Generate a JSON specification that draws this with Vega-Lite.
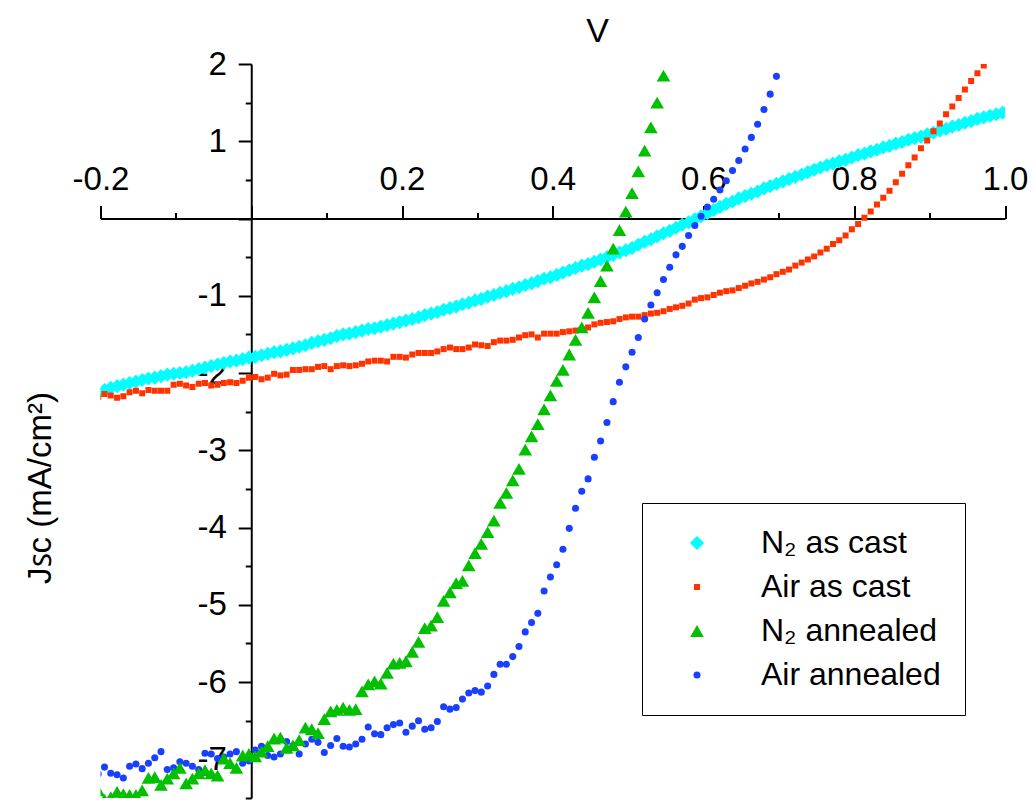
{
"$schema": "https://vega.github.io/schema/vega-lite/v6.json",
"width": 904.5,
"height": 734,
"autosize": {"type": "none"},
"padding": {"left": 100.5, "top": 64, "right": 29, "bottom": 5},
"config": {"view": {"stroke": null}, "font": "Liberation Sans"},
"data": {"values": [
{"s":"a","v":-0.203,"j":-2.27},{"s":"a","v":-0.1947,"j":-2.22},{"s":"a","v":-0.1864,"j":-2.19},{"s":"a","v":-0.178,"j":-2.17},{"s":"a","v":-0.1697,"j":-2.15},{"s":"a","v":-0.1614,"j":-2.13},{"s":"a","v":-0.153,"j":-2.11},{"s":"a","v":-0.1447,"j":-2.09},{"s":"a","v":-0.1364,"j":-2.07},{"s":"a","v":-0.128,"j":-2.06},{"s":"a","v":-0.1197,"j":-2.04},{"s":"a","v":-0.1114,"j":-2.02},{"s":"a","v":-0.103,"j":-2.01},{"s":"a","v":-0.0947,"j":-2.0},{"s":"a","v":-0.0864,"j":-1.99},{"s":"a","v":-0.0781,"j":-1.97},{"s":"a","v":-0.0697,"j":-1.95},{"s":"a","v":-0.0614,"j":-1.93},{"s":"a","v":-0.0531,"j":-1.91},{"s":"a","v":-0.0447,"j":-1.89},{"s":"a","v":-0.0364,"j":-1.87},{"s":"a","v":-0.0281,"j":-1.85},{"s":"a","v":-0.0197,"j":-1.84},{"s":"a","v":-0.0114,"j":-1.82},{"s":"a","v":-0.0031,"j":-1.8},{"s":"a","v":0.0053,"j":-1.79},{"s":"a","v":0.0136,"j":-1.77},{"s":"a","v":0.0219,"j":-1.75},{"s":"a","v":0.0303,"j":-1.73},{"s":"a","v":0.0386,"j":-1.72},{"s":"a","v":0.0469,"j":-1.7},{"s":"a","v":0.0553,"j":-1.68},{"s":"a","v":0.0636,"j":-1.66},{"s":"a","v":0.0719,"j":-1.64},{"s":"a","v":0.0803,"j":-1.61},{"s":"a","v":0.0886,"j":-1.59},{"s":"a","v":0.0969,"j":-1.57},{"s":"a","v":0.1053,"j":-1.55},{"s":"a","v":0.1136,"j":-1.52},{"s":"a","v":0.1219,"j":-1.5},{"s":"a","v":0.1302,"j":-1.49},{"s":"a","v":0.1386,"j":-1.47},{"s":"a","v":0.1469,"j":-1.45},{"s":"a","v":0.1552,"j":-1.43},{"s":"a","v":0.1636,"j":-1.42},{"s":"a","v":0.1719,"j":-1.4},{"s":"a","v":0.1802,"j":-1.38},{"s":"a","v":0.1886,"j":-1.36},{"s":"a","v":0.1969,"j":-1.34},{"s":"a","v":0.2052,"j":-1.32},{"s":"a","v":0.2136,"j":-1.3},{"s":"a","v":0.2219,"j":-1.28},{"s":"a","v":0.2302,"j":-1.25},{"s":"a","v":0.2386,"j":-1.23},{"s":"a","v":0.2469,"j":-1.21},{"s":"a","v":0.2552,"j":-1.18},{"s":"a","v":0.2636,"j":-1.16},{"s":"a","v":0.2719,"j":-1.14},{"s":"a","v":0.2802,"j":-1.11},{"s":"a","v":0.2886,"j":-1.09},{"s":"a","v":0.2969,"j":-1.06},{"s":"a","v":0.3052,"j":-1.04},{"s":"a","v":0.3136,"j":-1.01},{"s":"a","v":0.3219,"j":-0.99},{"s":"a","v":0.3302,"j":-0.96},{"s":"a","v":0.3385,"j":-0.94},{"s":"a","v":0.3469,"j":-0.91},{"s":"a","v":0.3552,"j":-0.89},{"s":"a","v":0.3635,"j":-0.86},{"s":"a","v":0.3719,"j":-0.84},{"s":"a","v":0.3802,"j":-0.81},{"s":"a","v":0.3885,"j":-0.78},{"s":"a","v":0.3969,"j":-0.76},{"s":"a","v":0.4052,"j":-0.73},{"s":"a","v":0.4135,"j":-0.7},{"s":"a","v":0.4219,"j":-0.67},{"s":"a","v":0.4302,"j":-0.64},{"s":"a","v":0.4385,"j":-0.61},{"s":"a","v":0.4469,"j":-0.59},{"s":"a","v":0.4552,"j":-0.56},{"s":"a","v":0.4635,"j":-0.53},{"s":"a","v":0.4719,"j":-0.5},{"s":"a","v":0.4802,"j":-0.47},{"s":"a","v":0.4885,"j":-0.44},{"s":"a","v":0.4969,"j":-0.41},{"s":"a","v":0.5052,"j":-0.38},{"s":"a","v":0.5135,"j":-0.34},{"s":"a","v":0.5219,"j":-0.3},{"s":"a","v":0.5302,"j":-0.27},{"s":"a","v":0.5385,"j":-0.23},{"s":"a","v":0.5469,"j":-0.19},{"s":"a","v":0.5552,"j":-0.16},{"s":"a","v":0.5635,"j":-0.12},{"s":"a","v":0.5718,"j":-0.08},{"s":"a","v":0.5802,"j":-0.05},{"s":"a","v":0.5885,"j":-0.01},{"s":"a","v":0.5968,"j":0.03},{"s":"a","v":0.6052,"j":0.07},{"s":"a","v":0.6135,"j":0.11},{"s":"a","v":0.6218,"j":0.15},{"s":"a","v":0.6302,"j":0.19},{"s":"a","v":0.6385,"j":0.22},{"s":"a","v":0.6468,"j":0.26},{"s":"a","v":0.6552,"j":0.29},{"s":"a","v":0.6635,"j":0.32},{"s":"a","v":0.6718,"j":0.35},{"s":"a","v":0.6802,"j":0.39},{"s":"a","v":0.6885,"j":0.42},{"s":"a","v":0.6968,"j":0.45},{"s":"a","v":0.7052,"j":0.48},{"s":"a","v":0.7135,"j":0.51},{"s":"a","v":0.7218,"j":0.54},{"s":"a","v":0.7302,"j":0.57},{"s":"a","v":0.7385,"j":0.6},{"s":"a","v":0.7468,"j":0.63},{"s":"a","v":0.7551,"j":0.66},{"s":"a","v":0.7635,"j":0.69},{"s":"a","v":0.7718,"j":0.71},{"s":"a","v":0.7801,"j":0.74},{"s":"a","v":0.7885,"j":0.76},{"s":"a","v":0.7968,"j":0.79},{"s":"a","v":0.8051,"j":0.82},{"s":"a","v":0.8135,"j":0.84},{"s":"a","v":0.8218,"j":0.87},{"s":"a","v":0.8301,"j":0.89},{"s":"a","v":0.8385,"j":0.92},{"s":"a","v":0.8468,"j":0.94},{"s":"a","v":0.8551,"j":0.97},{"s":"a","v":0.8635,"j":0.99},{"s":"a","v":0.8718,"j":1.02},{"s":"a","v":0.8801,"j":1.04},{"s":"a","v":0.8885,"j":1.06},{"s":"a","v":0.8968,"j":1.09},{"s":"a","v":0.9051,"j":1.11},{"s":"a","v":0.9135,"j":1.14},{"s":"a","v":0.9218,"j":1.16},{"s":"a","v":0.9301,"j":1.19},{"s":"a","v":0.9385,"j":1.21},{"s":"a","v":0.9468,"j":1.24},{"s":"a","v":0.9551,"j":1.26},{"s":"a","v":0.9634,"j":1.29},{"s":"a","v":0.9718,"j":1.31},{"s":"a","v":0.9801,"j":1.33},{"s":"a","v":0.9884,"j":1.35},{"s":"a","v":0.9968,"j":1.37},{"s":"a","v":1.0051,"j":1.4},
{"s":"b","v":-0.203,"j":-2.31},{"s":"b","v":-0.1947,"j":-2.27},{"s":"b","v":-0.1864,"j":-2.29},{"s":"b","v":-0.178,"j":-2.32},{"s":"b","v":-0.1697,"j":-2.3},{"s":"b","v":-0.1614,"j":-2.25},{"s":"b","v":-0.153,"j":-2.23},{"s":"b","v":-0.1447,"j":-2.26},{"s":"b","v":-0.1364,"j":-2.22},{"s":"b","v":-0.128,"j":-2.23},{"s":"b","v":-0.1197,"j":-2.23},{"s":"b","v":-0.1114,"j":-2.23},{"s":"b","v":-0.103,"j":-2.15},{"s":"b","v":-0.0947,"j":-2.14},{"s":"b","v":-0.0864,"j":-2.16},{"s":"b","v":-0.0781,"j":-2.18},{"s":"b","v":-0.0697,"j":-2.14},{"s":"b","v":-0.0614,"j":-2.13},{"s":"b","v":-0.0531,"j":-2.16},{"s":"b","v":-0.0447,"j":-2.15},{"s":"b","v":-0.0364,"j":-2.13},{"s":"b","v":-0.0281,"j":-2.12},{"s":"b","v":-0.0197,"j":-2.13},{"s":"b","v":-0.0114,"j":-2.1},{"s":"b","v":-0.0031,"j":-2.06},{"s":"b","v":0.0053,"j":-2.05},{"s":"b","v":0.0136,"j":-2.08},{"s":"b","v":0.0219,"j":-2.06},{"s":"b","v":0.0303,"j":-2.01},{"s":"b","v":0.0386,"j":-2.03},{"s":"b","v":0.0469,"j":-2.02},{"s":"b","v":0.0553,"j":-1.96},{"s":"b","v":0.0636,"j":-1.96},{"s":"b","v":0.0719,"j":-1.95},{"s":"b","v":0.0803,"j":-1.95},{"s":"b","v":0.0886,"j":-1.92},{"s":"b","v":0.0969,"j":-1.91},{"s":"b","v":0.1053,"j":-1.95},{"s":"b","v":0.1136,"j":-1.91},{"s":"b","v":0.1219,"j":-1.9},{"s":"b","v":0.1302,"j":-1.91},{"s":"b","v":0.1386,"j":-1.9},{"s":"b","v":0.1469,"j":-1.88},{"s":"b","v":0.1552,"j":-1.85},{"s":"b","v":0.1636,"j":-1.84},{"s":"b","v":0.1719,"j":-1.84},{"s":"b","v":0.1802,"j":-1.85},{"s":"b","v":0.1886,"j":-1.79},{"s":"b","v":0.1969,"j":-1.79},{"s":"b","v":0.2052,"j":-1.8},{"s":"b","v":0.2136,"j":-1.76},{"s":"b","v":0.2219,"j":-1.74},{"s":"b","v":0.2302,"j":-1.74},{"s":"b","v":0.2386,"j":-1.74},{"s":"b","v":0.2469,"j":-1.72},{"s":"b","v":0.2552,"j":-1.69},{"s":"b","v":0.2636,"j":-1.67},{"s":"b","v":0.2719,"j":-1.69},{"s":"b","v":0.2802,"j":-1.69},{"s":"b","v":0.2886,"j":-1.67},{"s":"b","v":0.2969,"j":-1.63},{"s":"b","v":0.3052,"j":-1.64},{"s":"b","v":0.3136,"j":-1.65},{"s":"b","v":0.3219,"j":-1.6},{"s":"b","v":0.3302,"j":-1.58},{"s":"b","v":0.3385,"j":-1.58},{"s":"b","v":0.3469,"j":-1.57},{"s":"b","v":0.3552,"j":-1.54},{"s":"b","v":0.3635,"j":-1.51},{"s":"b","v":0.3719,"j":-1.5},{"s":"b","v":0.3802,"j":-1.54},{"s":"b","v":0.3885,"j":-1.49},{"s":"b","v":0.3969,"j":-1.49},{"s":"b","v":0.4052,"j":-1.49},{"s":"b","v":0.4135,"j":-1.47},{"s":"b","v":0.4219,"j":-1.46},{"s":"b","v":0.4302,"j":-1.45},{"s":"b","v":0.4385,"j":-1.43},{"s":"b","v":0.4469,"j":-1.41},{"s":"b","v":0.4552,"j":-1.37},{"s":"b","v":0.4635,"j":-1.35},{"s":"b","v":0.4719,"j":-1.34},{"s":"b","v":0.4802,"j":-1.33},{"s":"b","v":0.4885,"j":-1.3},{"s":"b","v":0.4969,"j":-1.28},{"s":"b","v":0.5052,"j":-1.27},{"s":"b","v":0.5135,"j":-1.27},{"s":"b","v":0.5219,"j":-1.25},{"s":"b","v":0.5302,"j":-1.23},{"s":"b","v":0.5385,"j":-1.22},{"s":"b","v":0.5469,"j":-1.2},{"s":"b","v":0.5552,"j":-1.17},{"s":"b","v":0.5635,"j":-1.15},{"s":"b","v":0.5718,"j":-1.13},{"s":"b","v":0.5802,"j":-1.1},{"s":"b","v":0.5885,"j":-1.05},{"s":"b","v":0.5968,"j":-1.03},{"s":"b","v":0.6052,"j":-1.02},{"s":"b","v":0.6135,"j":-0.99},{"s":"b","v":0.6218,"j":-0.96},{"s":"b","v":0.6302,"j":-0.94},{"s":"b","v":0.6385,"j":-0.93},{"s":"b","v":0.6468,"j":-0.9},{"s":"b","v":0.6552,"j":-0.87},{"s":"b","v":0.6635,"j":-0.84},{"s":"b","v":0.6718,"j":-0.82},{"s":"b","v":0.6802,"j":-0.79},{"s":"b","v":0.6885,"j":-0.76},{"s":"b","v":0.6968,"j":-0.72},{"s":"b","v":0.7052,"j":-0.69},{"s":"b","v":0.7135,"j":-0.66},{"s":"b","v":0.7218,"j":-0.61},{"s":"b","v":0.7302,"j":-0.57},{"s":"b","v":0.7385,"j":-0.53},{"s":"b","v":0.7468,"j":-0.49},{"s":"b","v":0.7551,"j":-0.44},{"s":"b","v":0.7635,"j":-0.39},{"s":"b","v":0.7718,"j":-0.33},{"s":"b","v":0.7801,"j":-0.28},{"s":"b","v":0.7885,"j":-0.22},{"s":"b","v":0.7968,"j":-0.14},{"s":"b","v":0.8051,"j":-0.07},{"s":"b","v":0.8135,"j":0.01},{"s":"b","v":0.8218,"j":0.09},{"s":"b","v":0.8301,"j":0.18},{"s":"b","v":0.8385,"j":0.27},{"s":"b","v":0.8468,"j":0.36},{"s":"b","v":0.8551,"j":0.47},{"s":"b","v":0.8635,"j":0.58},{"s":"b","v":0.8718,"j":0.69},{"s":"b","v":0.8801,"j":0.79},{"s":"b","v":0.8885,"j":0.91},{"s":"b","v":0.8968,"j":1.01},{"s":"b","v":0.9051,"j":1.13},{"s":"b","v":0.9135,"j":1.23},{"s":"b","v":0.9218,"j":1.35},{"s":"b","v":0.9301,"j":1.45},{"s":"b","v":0.9385,"j":1.56},{"s":"b","v":0.9468,"j":1.67},{"s":"b","v":0.9551,"j":1.78},{"s":"b","v":0.9634,"j":1.88},{"s":"b","v":0.9718,"j":1.98},
{"s":"d","v":-0.203,"j":-7.19},{"s":"d","v":-0.1947,"j":-7.1},{"s":"d","v":-0.1864,"j":-7.18},{"s":"d","v":-0.178,"j":-7.2},{"s":"d","v":-0.1697,"j":-7.24},{"s":"d","v":-0.1614,"j":-7.09},{"s":"d","v":-0.153,"j":-7.06},{"s":"d","v":-0.1447,"j":-7.12},{"s":"d","v":-0.1364,"j":-7.05},{"s":"d","v":-0.128,"j":-6.98},{"s":"d","v":-0.1197,"j":-6.9},{"s":"d","v":-0.1114,"j":-7.13},{"s":"d","v":-0.103,"j":-7.11},{"s":"d","v":-0.0947,"j":-7.03},{"s":"d","v":-0.0864,"j":-7.05},{"s":"d","v":-0.0781,"j":-7.09},{"s":"d","v":-0.0697,"j":-7.13},{"s":"d","v":-0.0614,"j":-6.92},{"s":"d","v":-0.0531,"j":-6.93},{"s":"d","v":-0.0447,"j":-6.99},{"s":"d","v":-0.0364,"j":-6.97},{"s":"d","v":-0.0281,"j":-6.93},{"s":"d","v":-0.0197,"j":-6.9},{"s":"d","v":-0.0114,"j":-7.05},{"s":"d","v":-0.0031,"j":-7.02},{"s":"d","v":0.0053,"j":-6.88},{"s":"d","v":0.0136,"j":-6.83},{"s":"d","v":0.0219,"j":-6.95},{"s":"d","v":0.0303,"j":-6.97},{"s":"d","v":0.0386,"j":-6.93},{"s":"d","v":0.0469,"j":-6.77},{"s":"d","v":0.0553,"j":-6.82},{"s":"d","v":0.0636,"j":-6.93},{"s":"d","v":0.0719,"j":-6.8},{"s":"d","v":0.0803,"j":-6.74},{"s":"d","v":0.0886,"j":-6.78},{"s":"d","v":0.0969,"j":-6.91},{"s":"d","v":0.1053,"j":-6.82},{"s":"d","v":0.1136,"j":-6.73},{"s":"d","v":0.1219,"j":-6.83},{"s":"d","v":0.1302,"j":-6.84},{"s":"d","v":0.1386,"j":-6.8},{"s":"d","v":0.1469,"j":-6.74},{"s":"d","v":0.1552,"j":-6.58},{"s":"d","v":0.1636,"j":-6.67},{"s":"d","v":0.1719,"j":-6.68},{"s":"d","v":0.1802,"j":-6.59},{"s":"d","v":0.1886,"j":-6.55},{"s":"d","v":0.1969,"j":-6.53},{"s":"d","v":0.2052,"j":-6.65},{"s":"d","v":0.2136,"j":-6.57},{"s":"d","v":0.2219,"j":-6.5},{"s":"d","v":0.2302,"j":-6.61},{"s":"d","v":0.2386,"j":-6.59},{"s":"d","v":0.2469,"j":-6.51},{"s":"d","v":0.2552,"j":-6.32},{"s":"d","v":0.2636,"j":-6.35},{"s":"d","v":0.2719,"j":-6.33},{"s":"d","v":0.2802,"j":-6.22},{"s":"d","v":0.2886,"j":-6.14},{"s":"d","v":0.2969,"j":-6.11},{"s":"d","v":0.3052,"j":-6.13},{"s":"d","v":0.3136,"j":-6.05},{"s":"d","v":0.3219,"j":-5.9},{"s":"d","v":0.3302,"j":-5.77},{"s":"d","v":0.3385,"j":-5.77},{"s":"d","v":0.3469,"j":-5.67},{"s":"d","v":0.3552,"j":-5.54},{"s":"d","v":0.3635,"j":-5.35},{"s":"d","v":0.3719,"j":-5.23},{"s":"d","v":0.3802,"j":-5.11},{"s":"d","v":0.3885,"j":-4.82},{"s":"d","v":0.3969,"j":-4.64},{"s":"d","v":0.4052,"j":-4.48},{"s":"d","v":0.4135,"j":-4.28},{"s":"d","v":0.4219,"j":-4.01},{"s":"d","v":0.4302,"j":-3.75},{"s":"d","v":0.4385,"j":-3.53},{"s":"d","v":0.4469,"j":-3.37},{"s":"d","v":0.4552,"j":-3.09},{"s":"d","v":0.4635,"j":-2.88},{"s":"d","v":0.4719,"j":-2.64},{"s":"d","v":0.4802,"j":-2.37},{"s":"d","v":0.4885,"j":-2.12},{"s":"d","v":0.4969,"j":-1.92},{"s":"d","v":0.5052,"j":-1.73},{"s":"d","v":0.5135,"j":-1.54},{"s":"d","v":0.5219,"j":-1.3},{"s":"d","v":0.5302,"j":-1.12},{"s":"d","v":0.5385,"j":-0.96},{"s":"d","v":0.5469,"j":-0.79},{"s":"d","v":0.5552,"j":-0.63},{"s":"d","v":0.5635,"j":-0.47},{"s":"d","v":0.5718,"j":-0.36},{"s":"d","v":0.5802,"j":-0.22},{"s":"d","v":0.5885,"j":-0.09},{"s":"d","v":0.5968,"j":0.03},{"s":"d","v":0.6052,"j":0.15},{"s":"d","v":0.6135,"j":0.25},{"s":"d","v":0.6218,"j":0.37},{"s":"d","v":0.6302,"j":0.49},{"s":"d","v":0.6385,"j":0.62},{"s":"d","v":0.6468,"j":0.75},{"s":"d","v":0.6552,"j":0.9},{"s":"d","v":0.6635,"j":1.05},{"s":"d","v":0.6718,"j":1.22},{"s":"d","v":0.6802,"j":1.41},{"s":"d","v":0.6885,"j":1.61},{"s":"d","v":0.6968,"j":1.84},
{"s":"c","v":-0.203,"j":-7.4},{"s":"c","v":-0.1947,"j":-7.52},{"s":"c","v":-0.1864,"j":-7.49},{"s":"c","v":-0.178,"j":-7.42},{"s":"c","v":-0.1697,"j":-7.45},{"s":"c","v":-0.1614,"j":-7.46},{"s":"c","v":-0.153,"j":-7.46},{"s":"c","v":-0.1447,"j":-7.4},{"s":"c","v":-0.1364,"j":-7.24},{"s":"c","v":-0.128,"j":-7.23},{"s":"c","v":-0.1197,"j":-7.33},{"s":"c","v":-0.1114,"j":-7.25},{"s":"c","v":-0.103,"j":-7.18},{"s":"c","v":-0.0947,"j":-7.11},{"s":"c","v":-0.0864,"j":-7.31},{"s":"c","v":-0.0781,"j":-7.25},{"s":"c","v":-0.0697,"j":-7.18},{"s":"c","v":-0.0614,"j":-7.14},{"s":"c","v":-0.0531,"j":-7.18},{"s":"c","v":-0.0447,"j":-7.21},{"s":"c","v":-0.0364,"j":-6.99},{"s":"c","v":-0.0281,"j":-7.05},{"s":"c","v":-0.0197,"j":-7.11},{"s":"c","v":-0.0114,"j":-6.95},{"s":"c","v":-0.0031,"j":-6.93},{"s":"c","v":0.0053,"j":-6.96},{"s":"c","v":0.0136,"j":-6.9},{"s":"c","v":0.0219,"j":-6.83},{"s":"c","v":0.0303,"j":-6.73},{"s":"c","v":0.0386,"j":-6.72},{"s":"c","v":0.0469,"j":-6.85},{"s":"c","v":0.0553,"j":-6.82},{"s":"c","v":0.0636,"j":-6.75},{"s":"c","v":0.0719,"j":-6.59},{"s":"c","v":0.0803,"j":-6.61},{"s":"c","v":0.0886,"j":-6.66},{"s":"c","v":0.0969,"j":-6.48},{"s":"c","v":0.1053,"j":-6.38},{"s":"c","v":0.1136,"j":-6.36},{"s":"c","v":0.1219,"j":-6.33},{"s":"c","v":0.1302,"j":-6.36},{"s":"c","v":0.1386,"j":-6.35},{"s":"c","v":0.1469,"j":-6.12},{"s":"c","v":0.1552,"j":-6.03},{"s":"c","v":0.1636,"j":-5.99},{"s":"c","v":0.1719,"j":-6.02},{"s":"c","v":0.1802,"j":-5.88},{"s":"c","v":0.1886,"j":-5.76},{"s":"c","v":0.1969,"j":-5.75},{"s":"c","v":0.2052,"j":-5.73},{"s":"c","v":0.2136,"j":-5.61},{"s":"c","v":0.2219,"j":-5.48},{"s":"c","v":0.2302,"j":-5.3},{"s":"c","v":0.2386,"j":-5.27},{"s":"c","v":0.2469,"j":-5.16},{"s":"c","v":0.2552,"j":-4.95},{"s":"c","v":0.2636,"j":-4.84},{"s":"c","v":0.2719,"j":-4.72},{"s":"c","v":0.2802,"j":-4.69},{"s":"c","v":0.2886,"j":-4.49},{"s":"c","v":0.2969,"j":-4.33},{"s":"c","v":0.3052,"j":-4.21},{"s":"c","v":0.3136,"j":-4.06},{"s":"c","v":0.3219,"j":-3.91},{"s":"c","v":0.3302,"j":-3.68},{"s":"c","v":0.3385,"j":-3.55},{"s":"c","v":0.3469,"j":-3.39},{"s":"c","v":0.3552,"j":-3.24},{"s":"c","v":0.3635,"j":-2.99},{"s":"c","v":0.3719,"j":-2.82},{"s":"c","v":0.3802,"j":-2.66},{"s":"c","v":0.3885,"j":-2.47},{"s":"c","v":0.3969,"j":-2.29},{"s":"c","v":0.4052,"j":-2.1},{"s":"c","v":0.4135,"j":-1.96},{"s":"c","v":0.4219,"j":-1.76},{"s":"c","v":0.4302,"j":-1.57},{"s":"c","v":0.4385,"j":-1.41},{"s":"c","v":0.4469,"j":-1.22},{"s":"c","v":0.4552,"j":-1.02},{"s":"c","v":0.4635,"j":-0.81},{"s":"c","v":0.4719,"j":-0.61},{"s":"c","v":0.4802,"j":-0.39},{"s":"c","v":0.4885,"j":-0.15},{"s":"c","v":0.4969,"j":0.09},{"s":"c","v":0.5052,"j":0.33},{"s":"c","v":0.5135,"j":0.61},{"s":"c","v":0.5219,"j":0.88},{"s":"c","v":0.5302,"j":1.18},{"s":"c","v":0.5385,"j":1.5},{"s":"c","v":0.5469,"j":1.85}
]},
"mark": {"type": "point", "filled": true, "opacity": 1, "clip": true, "strokeWidth": 0},
"encoding": {
  "x": {"field": "v", "type": "quantitative",
    "scale": {"domain": [-0.2, 1.0], "nice": false, "zero": false},
    "axis": {"orient": "top", "offset": -154.5,
      "values": [-0.2,-0.1,0,0.1,0.2,0.3,0.4,0.5,0.6,0.7,0.8,0.9,1.0],
      "format": ".1f",
      "labelExpr": "abs(round(datum.value*10))%2===0 && datum.value!==0 ? replace(datum.label,'−','-') : ''",
      "tickSize": {"condition": {"test": "abs(round(datum.value*10))%2===0", "value": 13}, "value": 6},
      "tickWidth": 2, "tickColor": "black", "domainColor": "black", "domainWidth": 2,
      "labelFontSize": 33, "labelFont": "Liberation Sans", "labelColor": "black", "labelPadding": 9,
      "labelOverlap": false, "labelFlush": false, "labelBound": false, "grid": false,
      "title": "V", "titleFontSize": 34, "titleFont": "Liberation Sans", "titleFontWeight": "normal", "titleColor": "black",
      "titleX": 496.5, "titleY": -177, "titleBaseline": "alphabetic", "titleAlign": "center"}},
  "y": {"field": "j", "type": "quantitative",
    "scale": {"domain": [-7.5, 2], "nice": false, "zero": false},
    "axis": {"orient": "left", "offset": -150.75,
      "values": [-7.5,-7,-6.5,-6,-5.5,-5,-4.5,-4,-3.5,-3,-2.5,-2,-1.5,-1,-0.5,0,0.5,1,1.5,2],
      "format": ".1~f",
      "labelExpr": "datum.value%1===0 && datum.value!==0 ? replace(datum.label,'−','-') : ''",
      "tickSize": {"condition": {"test": "datum.value%1===0", "value": 13}, "value": 6},
      "tickWidth": 2, "tickColor": "black", "domainColor": "black", "domainWidth": 2,
      "labelFontSize": 33, "labelFont": "Liberation Sans", "labelColor": "black", "labelPadding": 12,
      "labelOverlap": false, "labelFlush": false, "labelBound": false, "grid": false,
      "title": "Jꜱᴄ (mA/cm²)", "titleFontSize": 33, "titleFont": "Liberation Sans", "titleFontWeight": "normal", "titleColor": "black",
      "titleAngle": 270, "titleX": -201, "titleY": 423.5, "titleBaseline": "alphabetic", "titleAlign": "center"}},
  "color": {"field": "s", "type": "nominal",
    "scale": {"domain": ["a","b","c","d"], "range": ["#00ffff","#ff3300","#00c000","#1a40ff"]},
    "legend": {"title": null, "orient": "none", "legendX": 541.5, "legendY": 439, "strokeColor": "black", "fillColor": "white", "padding": 24, "symbolOffset": 15, "labelOffset": 48, "rowPadding": 12, "labelFontSize": 32, "labelFont": "Liberation Sans", "labelColor": "black", "labelLimit": 500, "symbolStrokeWidth": 0,
      "labelExpr": "datum.label==='a' ? 'N₂ as cast' : datum.label==='b' ? 'Air as cast' : datum.label==='c' ? 'N₂ annealed' : 'Air annealed'",
      "encode": {"legend": {"update": {"strokeWidth": {"value": 2}}}}}},
  "shape": {"field": "s", "type": "nominal",
    "scale": {"domain": ["a","b","c","d"], "range": ["diamond","square","triangle-up","circle"]},
    "legend": {"title": null, "orient": "none", "legendX": 541.5, "legendY": 439, "strokeColor": "black", "fillColor": "white", "padding": 24, "symbolOffset": 15, "labelOffset": 48, "rowPadding": 12, "labelFontSize": 32, "labelFont": "Liberation Sans", "labelColor": "black", "labelLimit": 500, "symbolStrokeWidth": 0,
      "labelExpr": "datum.label==='a' ? 'N₂ as cast' : datum.label==='b' ? 'Air as cast' : datum.label==='c' ? 'N₂ annealed' : 'Air annealed'",
      "encode": {"legend": {"update": {"strokeWidth": {"value": 2}}}}}},
  "size": {"field": "s", "type": "nominal",
    "scale": {"type": "ordinal", "domain": ["a","b","c","d"], "range": [200, 36, 185, 50]},
    "legend": {"title": null, "orient": "none", "legendX": 541.5, "legendY": 439, "strokeColor": "black", "fillColor": "white", "padding": 24, "symbolOffset": 15, "labelOffset": 48, "rowPadding": 12, "labelFontSize": 32, "labelFont": "Liberation Sans", "labelColor": "black", "labelLimit": 500, "symbolStrokeWidth": 0,
      "labelExpr": "datum.label==='a' ? 'N₂ as cast' : datum.label==='b' ? 'Air as cast' : datum.label==='c' ? 'N₂ annealed' : 'Air annealed'",
      "encode": {"legend": {"update": {"strokeWidth": {"value": 2}}}}}}
}
}
